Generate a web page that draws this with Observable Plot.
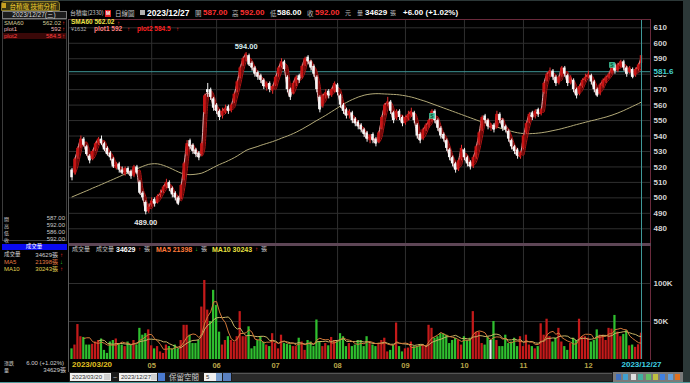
<!DOCTYPE html>
<html><head><meta charset="utf-8">
<script src="https://cdn.jsdelivr.net/npm/d3@7"></script>
<script src="https://cdn.jsdelivr.net/npm/@observablehq/plot@0.6"></script>
<style>
html,body{margin:0;padding:0;background:#000;}
#root{position:relative;width:690px;height:383px;overflow:hidden;background:#000;font-family:"Liberation Sans","Noto Sans CJK TC",sans-serif;}
.abs{position:absolute;white-space:nowrap;}
</style></head><body><div id="root"></div>
<script>
// ---------- DATA (TSMC 2330 daily, 2023/03/20 – 2023/12/27) ----------
const firstDate = "2023/03/20";
const lastDate = "2023/12/27";
const monthIdx = [27,49,69,90,113,133,153,175];
const monthLabels = ["05","06","07","08","09","10","11","12"];
const open = [518,516,527,533,538,533,527,525,531,535,
538,535,532,529,525,519,522,518,515,519,
517,514,520,510,503,497,491,496,499,497,
502,504,507,510,506,503,500,500,512,528,
537,534,531,529,528,555,570,570,564,560,
556,553,555,559,556,562,570,578,586,592,
592,587,584,581,579,576,571,574,569,573,
580,585,588,578,570,568,574,579,578,586,
591,588,585,578,565,559,566,569,566,569,
573,566,560,557,553,555,551,549,547,544,
542,537,541,538,536,545,554,561,562,555,
551,556,552,548,551,553,555,547,541,538,
544,547,550,556,550,545,541,537,531,526,
522,518,525,531,526,523,520,526,535,544,
553,550,545,547,546,554,550,546,543,537,
533,531,526,532,542,549,555,553,557,554,
568,576,580,582,578,574,579,584,579,574,
576,570,567,572,576,578,579,575,570,567,
572,575,578,581,586,582,585,588,584,581,
583,579,583,587];
const high = [519,526,533,540,539,534,528,531,536,539,
540,536,533,530,526,523,523,520,520,520,
518,521,521,511,504,498,496,500,500,502,
505,508,512,511,507,504,501,509,523,537,
538,535,532,530,536,567,574,571,565,561,
557,558,560,560,561,568,576,585,591,594,
593,588,585,582,580,577,575,575,573,579,
585,590,589,579,571,575,579,580,586,591,
592,589,586,579,566,567,570,570,571,575,
574,567,561,558,557,556,552,550,548,545,
543,541,542,539,543,553,561,565,563,556,
557,557,553,553,556,558,556,548,542,545,
548,551,557,557,551,546,542,538,532,527,
523,525,534,532,527,524,527,534,543,553,
554,551,548,548,556,555,551,547,544,538,
534,532,530,541,549,555,556,557,558,558,
575,581,584,583,579,579,585,585,580,579,
577,571,573,577,580,582,580,576,571,574,
577,579,581,586,587,587,589,589,585,585,
584,584,587,592];
const low = [511,515,525,532,533,527,522,524,530,534,
534,530,527,524,519,518,516,515,514,515,
512,513,515,502,498,489,490,494,494,496,
500,503,506,504,500,498,495,499,511,527,
531,528,526,524,527,554,565,563,556,554,
550,551,554,554,555,561,568,577,585,588,
585,582,578,576,574,570,569,568,567,572,
578,584,582,568,563,567,572,574,577,585,
586,582,578,568,555,558,564,564,565,568,
566,558,554,551,551,548,546,544,542,539,
536,535,535,533,535,544,553,559,554,548,
550,550,546,547,550,552,548,538,535,537,
543,545,549,548,543,538,536,530,524,520,
516,517,524,524,520,518,519,525,534,543,
548,544,543,542,545,548,543,542,536,531,
528,525,525,531,541,548,550,551,552,553,
567,575,578,576,572,573,578,578,572,573,
568,564,566,571,575,577,573,568,565,566,
571,574,577,580,580,581,584,582,578,580,
577,578,582,586];
const close = [513,525,532,538,534,528,524,530,535,538,
535,531,528,526,520,522,518,516,519,516,
514,520,516,503,500,491,494,498,496,501,
503,507,510,506,502,500,496,508,522,535,
533,530,528,526,535,566,568,565,558,556,
552,556,558,556,560,567,575,584,590,593,
586,584,580,578,576,572,574,570,572,578,
584,588,583,570,565,574,578,576,585,590,
588,584,580,570,557,566,568,566,570,574,
568,560,556,553,556,550,548,546,544,541,
538,540,537,535,542,552,560,562,556,550,
556,552,548,552,554,556,550,540,537,544,
547,550,556,550,545,540,538,532,526,522,
518,524,532,526,522,520,526,533,542,552,
550,546,546,544,554,550,545,544,538,533,
530,527,529,540,548,554,552,556,554,557,
574,580,582,578,574,578,584,580,574,578,
570,566,572,576,578,580,575,570,566,573,
576,578,580,585,582,586,588,584,580,584,
578,583,586,592];
const sma60 = [500.6,501.4,502.2,503.0,503.8,504.6,505.4,506.3,507.1,507.9,
508.7,509.5,510.4,511.2,512.0,512.9,513.7,514.6,515.4,516.3,
517.1,518.0,518.8,519.6,520.4,521.1,521.7,522.0,522.1,522.0,
521.6,521.0,520.3,519.5,518.6,517.7,516.8,516.0,515.5,515.1,
515.0,515.1,515.3,515.6,516.0,516.8,517.7,518.7,519.7,520.7,
521.6,522.4,523.2,524.1,525.0,526.0,527.1,528.3,529.5,530.7,
531.5,532.1,532.7,533.3,534.0,534.6,535.2,535.8,536.4,537.1,
537.8,538.6,539.3,540.0,540.8,541.6,542.5,543.5,544.5,545.6,
546.7,547.8,549.0,550.1,551.2,552.3,553.4,554.6,555.8,557.0,
558.2,559.5,560.6,561.7,562.7,563.6,564.4,565.2,565.8,566.4,
566.8,567.1,567.3,567.4,567.4,567.3,567.2,567.1,567.0,566.9,
566.8,566.6,566.3,566.0,565.6,565.2,564.7,564.1,563.5,562.9,
562.3,561.6,560.9,560.2,559.5,558.8,558.1,557.4,556.7,556.0,
555.3,554.6,553.9,553.2,552.5,551.8,551.1,550.4,549.7,549.0,
548.3,547.6,547.0,546.4,545.8,545.2,544.6,544.0,543.5,543.0,
542.5,542.1,541.8,541.6,541.5,541.5,541.6,541.7,541.9,542.1,
542.4,542.7,543.1,543.5,543.9,544.3,544.8,545.3,545.8,546.3,
546.9,547.4,547.9,548.4,548.9,549.4,549.9,550.3,550.8,551.3,
551.8,552.3,552.9,553.5,554.2,554.9,555.7,556.5,557.4,558.3,
559.2,560.1,561.0,562.02];
// volume in thousands of lots (張)
const volumeK = [14,19,46,30,29,19,19,20,23,25,
27,12,8,23,25,27,21,19,17,23,
19,25,19,41,32,34,39,18,14,17,
10,8,19,17,14,19,14,25,45,45,
32,21,21,25,69,104,65,50,91,71,
36,19,25,30,25,23,30,63,30,30,
43,14,17,25,30,23,19,17,34,21,
14,32,21,20,19,17,17,28,23,12,
25,23,17,52,23,17,21,18,29,25,
25,34,30,17,21,17,19,25,25,17,
30,21,19,17,21,25,28,10,12,19,
48,17,10,14,15,23,17,17,19,18,
18,45,41,28,30,34,34,32,21,25,
28,25,19,30,25,28,63,36,36,21,
19,30,25,50,25,17,17,32,21,23,
28,17,30,17,32,19,17,14,17,47,
32,53,30,23,28,41,23,17,12,21,
28,25,53,30,30,28,23,25,39,32,
32,25,41,40,58,36,30,33,38,18,
19,16,19.4,34.629];
const priceTicks = [480,490,500,510,520,530,540,550,560,570,580,590,600,610];
const volTicks = [50,100];
const refLine = 581.6;
const signalIdx = [122,183];
const signalPrice = [553,586];
const peakIdx = 59, peakLabel = "594.00";
const troughIdx = 25, troughLabel = "489.00";

// ---------- derived ----------
const N = close.length;
const idx = d3.range(N);
const bars = idx.map(i => ({i, o: open[i], h: high[i], l: low[i], c: close[i]}));
// plot1 = close, plot2 = previous bar's mid price
const ribbon = idx.slice(1).map(i => ({i, p1: close[i], p2: (high[i-1] + low[i-1]) / 2}));
const volRows = idx.map(i => ({i, v: volumeK[i],
  col: i === 0 ? (close[i] >= open[i] ? "#c41a1a" : "#2fbf2f") :
       close[i] > close[i-1] ? "#c41a1a" : close[i] < close[i-1] ? "#2fbf2f" : "#e6e6e6"}));
function ma(n){ return idx.filter(i => i >= n-1).map(i => ({i, v: d3.mean(volumeK.slice(i-n+1, i+1))})); }
const ma5 = ma(5), ma10 = ma(10);

const xDomain = [-0.85, 196.05];
const grid = "#2f2f2f";
const teal = "#3f9898";
const font = "Liberation Sans";

const price = Plot.plot({
  width: 690, height: 245,
  marginLeft: 69, marginRight: 40, marginTop: 19, marginBottom: 1,
  style: {background: "transparent", color: "#d0d0d0", fontSize: "8px", fontFamily: font, overflow: "visible"},
  x: {domain: xDomain, axis: null},
  y: {domain: [469.83, 615.37], axis: null},
  color: {type: "identity"},
  marks: [
    Plot.ruleY(priceTicks, {stroke: grid}),
    Plot.ruleX(monthIdx, {stroke: grid}),
    Plot.axisY(priceTicks, {anchor: "right", label: null, tickSize: 0, tickPadding: 3, fill: "#d4d4d4", fontSize: 8, fontWeight: "bold"}),
    Plot.ruleY([refLine], {stroke: teal}),
    Plot.line(idx, {x: i => i, y: i => sma60[i], stroke: "#b3aa78", strokeWidth: 1}),
    Plot.areaY(ribbon, {x: "i", y1: "p1", y2: "p2", fill: "#7c0a0a", curve: "monotone-x"}),
    Plot.line(ribbon, {x: "i", y: "p2", stroke: "#b01414", strokeWidth: 1, curve: "monotone-x"}),
    Plot.line(ribbon, {x: "i", y: "p1", stroke: "#d8b4b4", strokeWidth: 1, curve: "monotone-x"}),
    Plot.ruleX(bars, {x: "i", y1: "l", y2: "h", stroke: d => d.c >= d.o ? "#e83030" : "#f2f2f2", strokeWidth: 1}),
    Plot.rect(bars, {x1: d => d.i - 0.42, x2: d => d.i + 0.42, y1: "o", y2: d => d.c === d.o ? d.c + 0.4 : d.c,
      fill: d => d.c >= d.o ? "#c81414" : "#f6f6f6"}),
    Plot.ruleX([N-1], {stroke: teal}),
    Plot.dot(signalIdx.map((d,k) => ({i: d, p: signalPrice[k]})), {x: "i", y: "p", symbol: "square", r: 3.2, fill: "#3fc29a"}),
    Plot.text(signalIdx.map((d,k) => ({i: d, p: signalPrice[k]})), {x: "i", y: "p", text: () => "S", fill: "#0a4a30", fontSize: 5, fontWeight: "bold"}),
    Plot.text([peakLabel], {x: peakIdx, y: high[peakIdx], dy: -6, fill: "#d8eef2", fontSize: 7.5, fontWeight: "bold"}),
    Plot.text([troughLabel], {x: troughIdx, y: low[troughIdx], dy: 8, fill: "#e8e8e8", fontSize: 7.5, fontWeight: "bold"}),
    Plot.text([refLine.toFixed(1)], {y: d => +d, frameAnchor: "right", textAnchor: "start", dx: 3, fill: "#45d0d0", fontSize: 8, fontWeight: "bold", stroke: "#000", strokeWidth: 3, paintOrder: "stroke"})
  ]
});

const vol = Plot.plot({
  width: 690, height: 132,
  marginLeft: 69, marginRight: 40, marginTop: 6, marginBottom: 13,
  style: {background: "transparent", color: "#d0d0d0", fontSize: "8px", fontFamily: font, overflow: "visible"},
  x: {domain: xDomain, axis: null},
  y: {domain: [0, 148.7], axis: null},
  color: {type: "identity"},
  marks: [
    Plot.ruleY(volTicks, {stroke: grid}),
    Plot.ruleX(monthIdx, {stroke: grid}),
    Plot.axisY(volTicks, {anchor: "right", label: null, tickSize: 0, tickPadding: 3, tickFormat: d => d + "K", fill: "#d4d4d4", fontSize: 8, fontWeight: "bold"}),
    Plot.rect(volRows, {x1: d => d.i - 0.38, x2: d => d.i + 0.38, y1: 0, y2: "v", fill: "col"}),
    Plot.line(ma10, {x: "i", y: "v", stroke: "#c9b464", strokeWidth: 1}),
    Plot.line(ma5, {x: "i", y: "v", stroke: "#d2783a", strokeWidth: 1}),
    Plot.ruleX([N-1], {stroke: teal}),
    Plot.axisX(monthIdx, {anchor: "bottom", label: null, tickSize: 0, tickPadding: 3, tickFormat: d => monthLabels[monthIdx.indexOf(d)], fill: "#b9a548", fontSize: 7.5, fontWeight: "bold"}),
    Plot.text([firstDate], {x: 0, frameAnchor: "bottom", dy: 7, textAnchor: "start", fill: "#e0c020", fontSize: 8, fontWeight: "bold"}),
    Plot.text([lastDate], {x: N-1, frameAnchor: "bottom", dy: 7, fill: "#3fd2e6", fontSize: 8, fontWeight: "bold"})
  ]
});

// ---------- layout ----------
const root = document.getElementById("root");
function box(x, y, w, h, css) {
  const d = document.createElement("div"); d.className = "abs";
  Object.assign(d.style, {left: x+"px", top: y+"px", width: w+"px", height: h+"px"}, css || {});
  root.appendChild(d); return d;
}
function txt(x, yc, s, color, fs, opts) {
  opts = opts || {};
  const d = document.createElement("div"); d.className = "abs"; d.textContent = s;
  d.style.fontSize = fs + "px"; d.style.lineHeight = fs + "px"; d.style.top = (yc - fs/2) + "px";
  d.style.color = color; d.style.fontWeight = opts.bold ? "bold" : "normal";
  if (opts.family) d.style.fontFamily = opts.family;
  if (opts.ls) d.style.letterSpacing = opts.ls + "px";
  if (opts.anchor === "right") d.style.right = (690 - x) + "px";
  else if (opts.anchor === "center") { d.style.left = x + "px"; d.style.transform = "translateX(-50%)"; }
  else d.style.left = x + "px";
  root.appendChild(d); return d;
}
const CJK = "Noto Sans CJK TC";

// frame backgrounds
box(683, 0, 7, 383, {background: "#2c3838"});
box(0, 0, 690, 1, {background: "#2c3838"});

// plots
price.style.position = "absolute"; price.style.left = "0px"; price.style.top = "0px";
vol.style.position = "absolute"; vol.style.left = "0px"; vol.style.top = "240px";
root.appendChild(price); root.appendChild(vol);

// panel borders
box(69, 19, 582, 1, {background: "#6a2a3c"});
box(650, 19, 1, 341, {background: "#6a2a3c"});
box(68, 19, 1, 353, {background: "#5a5a5a"});
box(69, 243, 582, 3, {background: "#5e4656"});
box(640.5, 243, 1, 3, {background: teal});

// left panel
box(1, 1, 59, 10, {background: "#3a3612", border: "1px solid #8a7a2a", borderRadius: "3px 3px 0 0", boxSizing: "border-box"});
box(2, 3, 4, 5, {background: "#c8a020"});
txt(33, 6, "台積電 技術分析", "#f4d030", 6.5, {anchor: "center", family: CJK});
box(2, 11, 65, 8, {background: "#1c1c1c", border: "1px solid #7a7a7a", boxSizing: "border-box"});
txt(34, 15, "2023/12/27(三)", "#d8d8d8", 6.5, {anchor: "center"});
box(2, 19, 65, 222, {border: "1px solid #3c3c3c", boxSizing: "border-box"});
box(3, 32.5, 63, 6, {background: "#3a0808"});
txt(4, 23, "SMA60", "#d4cc9c", 6);
txt(61, 23, "562.02", "#d4cc9c", 6, {anchor: "right"});
txt(62, 23, "↑", "#ff2a2a", 6);
txt(4, 29.3, "plot1", "#f0b8b8", 6);
txt(61, 29.3, "592", "#f0b8b8", 6, {anchor: "right"});
txt(62, 29.3, "↑", "#ff2a2a", 6);
txt(4, 35.5, "plot2", "#ff4040", 6);
txt(61, 35.5, "584.5", "#ff4040", 6, {anchor: "right"});
txt(62, 35.5, "↑", "#ff2a2a", 6);
const ohlcNames = ["開","高","低","收"], ohlcVals = ["587.00","592.00","586.00","592.00"];
ohlcNames.forEach((n, k) => {
  txt(4, 218 + k*7.1, n, "#c8c8c8", 5, {family: CJK});
  txt(65, 218 + k*7.1, ohlcVals[k], "#c8c8c8", 6, {anchor: "right"});
});
box(2, 244, 65, 6, {background: "#0a0af0"});
txt(34, 247, "成交量", "#ffffff", 5.5, {anchor: "center", family: CJK});
txt(4, 254.7, "成交量", "#d0d0d0", 5.5, {family: CJK});
txt(58, 254.7, "34629張", "#d0d0d0", 6, {anchor: "right"});
txt(60, 254.7, "↑", "#ff2a2a", 6);
txt(4, 262, "MA5", "#e07a40", 6);
txt(58, 262, "21398張", "#e07a40", 6, {anchor: "right"});
txt(60, 262, "↓", "#30d030", 6);
txt(4, 269.3, "MA10", "#e0d050", 6);
txt(58, 269.3, "30243張", "#e0d050", 6, {anchor: "right"});
txt(60, 269.3, "↑", "#ff2a2a", 6);
txt(4, 362.5, "漲跌", "#d0d0d0", 5, {family: CJK});
txt(64, 362.5, "6.00 (+1.02%)", "#d0d0d0", 6, {anchor: "right"});
txt(4, 369.5, "量", "#d0d0d0", 5, {family: CJK});
txt(66, 369.5, "34629張", "#d0d0d0", 6, {anchor: "right"});

// top header
const H = 13;
txt(70, H, "台積電(2330)", "#c8c8c8", 6, {family: CJK, ls: -0.2});
box(105, 9.5, 6, 7, {background: "#e02020"});
txt(108, H, "M", "#ffffff", 5, {anchor: "center", bold: true});
txt(115, H, "日線圖", "#c8c8c8", 6.5, {family: CJK});
box(140, 10, 5, 5, {background: "#b0b0b0"});
txt(147, H, "2023/12/27", "#ffffff", 8.5, {bold: true});
txt(195, H, "開", "#bdbdbd", 6.5, {family: CJK});
txt(203, H, "587.00", "#ff3030", 8, {bold: true});
txt(232, H, "高", "#bdbdbd", 6.5, {family: CJK});
txt(240, H, "592.00", "#ff3030", 8, {bold: true});
txt(270, H, "低", "#bdbdbd", 6.5, {family: CJK});
txt(277, H, "586.00", "#ffffff", 8, {bold: true});
txt(307, H, "收", "#bdbdbd", 6.5, {family: CJK});
txt(315, H, "592.00", "#ff3030", 8, {bold: true});
txt(345, H, "元", "#bdbdbd", 6, {family: CJK});
txt(357, H, "量", "#bdbdbd", 6, {family: CJK});
txt(365, H, "34629", "#ffffff", 8, {bold: true});
txt(390, H, "張", "#bdbdbd", 6, {family: CJK});
txt(403, H, "+6.00 (+1.02%)", "#ffffff", 8, {bold: true});

// in-chart legends
txt(71, 22.6, "SMA60 562.02", "#ece44a", 6.5, {bold: true});
txt(117, 22.6, "↑", "#ff2a2a", 6);
txt(71, 29.4, "\u00A51632", "#b0b0b0", 5.5);
txt(94, 29.4, "plot1 592", "#ff8080", 6.5, {bold: true});
txt(127, 29.4, "↑", "#ff2a2a", 6);
txt(137, 29.4, "plot2 584.5", "#ff2020", 6.5, {bold: true});
txt(176, 29.4, "↑", "#ff2a2a", 6);
txt(72, 249.3, "成交量", "#c8c8c8", 6, {family: CJK});
txt(96, 249.3, "成交量", "#c8c8c8", 6, {family: CJK});
txt(116, 249.3, "34629", "#ffffff", 7, {bold: true});
txt(138, 249.3, "↑", "#ff2a2a", 6);
txt(144, 249.3, "張", "#c8c8c8", 6, {family: CJK});
txt(156, 249.3, "MA5 21398", "#ff7a3a", 7, {bold: true});
txt(195, 249.3, "↓", "#30d030", 6);
txt(201, 249.3, "張", "#c8c8c8", 6, {family: CJK});
txt(212, 249.3, "MA10 30243", "#e8e040", 7, {bold: true});
txt(255, 249.3, "↑", "#ff2a2a", 6);
txt(261, 249.3, "張", "#c8c8c8", 6, {family: CJK});

// bottom toolbar
box(69, 372, 614, 10, {background: "#1a1a1a"});
box(70, 373, 41, 8, {background: "#f0f0f0"});
txt(72, 377, "2023/03/20", "#303030", 6);
box(104, 374, 6, 6, {background: "#d0d0d0"});
txt(113, 377, "~", "#c0c0c0", 7);
box(119, 373, 38, 8, {background: "#f0f0f0"});
txt(121, 377, "2023/12/27", "#303030", 6);
box(151, 374, 6, 6, {background: "#d0d0d0"});
box(158, 373, 7, 8, {background: "#4a7ad0"});
txt(169, 377, "保留空間", "#d0d0d0", 7.5, {family: CJK});
box(204, 373, 18, 8, {background: "#f0f0f0"});
txt(206, 377, "5", "#303030", 6);
box(216, 373, 6, 8, {background: "#7aa0d0"});
box(223, 373, 8, 8, {background: "#5a80c0"});
box(232, 373, 380, 8, {background: "#2a2a2a", borderTop: "1px solid #555", boxSizing: "border-box"});
box(613, 372, 70, 10, {background: "#7a7a7a"});
const iconCols = ["#4070c0","#40a0d0","#e0e0e0","#40b0a0","#60c060","#c0c040","#4080e0","#60a0e0","#e07020"];
iconCols.forEach((c, k) => box(616 + k*7.4, 374, 5, 6, {background: c}));
box(0, 382, 690, 1, {background: "#4f9a9a"});
</script></body></html>
